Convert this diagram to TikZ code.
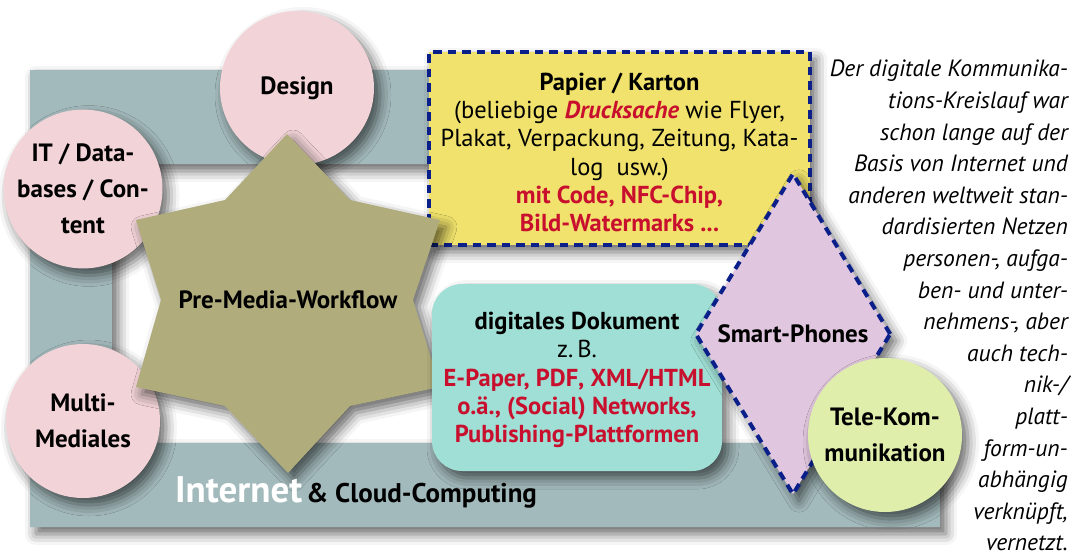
\documentclass[tikz,border=0pt]{standalone}
\usepackage{fontspec}
\setmainfont{PT Sans}
\usetikzlibrary{shadows.blur,shapes.geometric}
\definecolor{framegray}{HTML}{A3BABC}
\definecolor{pinkc}{HTML}{F2D3D7}
\definecolor{starc}{HTML}{B0AC7C}
\definecolor{yellowc}{HTML}{F0E26C}
\definecolor{tealc}{HTML}{A0DFD5}
\definecolor{lavc}{HTML}{E0C6DE}
\definecolor{greenc}{HTML}{DFEEAB}
\definecolor{dashblue}{HTML}{0B1F8A}
\definecolor{redc}{HTML}{C8102E}
\tikzset{
  shd/.style={blur shadow={shadow xshift=6pt, shadow yshift=-7pt, shadow blur radius=11pt, shadow opacity=60}},
  bubble/.style={circle, fill=pinkc, shd, minimum size=154pt, inner sep=0pt, align=center,
    font=\fontsize{25}{36}\selectfont\bfseries},
  bluedash/.style={draw=dashblue, line width=4pt, dash pattern=on 8.5pt off 6pt},
  boxtext/.style={font=\fontsize{24.5}{28.2}\selectfont, align=center, inner sep=0pt},
  yellowbox/.style={rectangle, fill=yellowc, bluedash, shd, minimum width=381pt, minimum height=193pt},
  tealbox/.style={rectangle, rounded corners=30pt, fill=tealc, shd, minimum width=290pt, minimum height=187pt},
  phonebox/.style={diamond, aspect=0.6, fill=lavc, bluedash, shd, inner sep=0pt,
    minimum width=196pt, minimum height=322pt, font=\fontsize{25}{28}\selectfont\bfseries}
}
\begin{document}
\begin{tikzpicture}[x=1pt,y=-1pt]
\useasboundingbox (0,0) rectangle (1071,557);
% frame
\fill[framegray, shd] (30,70) -- (780,70) -- (780,164) -- (112,164) -- (112,443) -- (940,443) -- (940,527) -- (30,527) -- cycle;
% yellow box
\node[yellowbox] (papier) at (619.5,148.5) {};
\node[boxtext] (papiertxt) at (619.5,152.5) {{\bfseries Papier / Karton}\\
(beliebige {\color{redc}\bfseries\itshape Drucksache} wie Flyer,\\
Plakat, Verpackung, Zeitung, Kata-\\
log\ \ usw.)\\
{\color{redc}\bfseries mit Code, NFC-Chip,}\\
{\color{redc}\bfseries Bild-Watermarks ...}};
% circles
\node[bubble] (design) at (297,88) {Design};
\node[bubble] (it) at (83,189) {IT / Data-\\bases / Con-\\tent};
\node[bubble] (multi) at (83,421) {Multi-\\Mediales};
% star
\fill[starc, shd] (287,134) -- (350,200) -- (440,220) -- (413,300) -- (440,387) -- (350,406) -- (288,473) -- (225,406) -- (136,387) -- (161,300) -- (136,220) -- (225,200) -- cycle;
\node[font=\fontsize{25}{28}\selectfont\bfseries] (pmw) at (288,300) {Pre-Media-Workflow};
% teal box
\node[tealbox] (doc) at (577,377.5) {};
\node[boxtext] (doctxt) at (577,380) {{\bfseries digitales Dokument}\\
z.\,B.\\
{\color{redc}\bfseries E-Paper, PDF, XML/HTML}\\
{\color{redc}\bfseries o.ä., (Social) Networks,}\\
{\color{redc}\bfseries Publishing-Plattformen}};
% diamond
\node[phonebox] (phones) at (793,334) {Smart-Phones};
% tele
\node[bubble, fill=greenc] (tele) at (885,435) {Tele-Kom-\\munikation};
% internet label
\node[anchor=base west, inner sep=0pt] (inet) at (175,502) {{\color{white}\fontsize{37}{37}\selectfont\bfseries Internet}\hspace{0.15em} {\fontsize{27}{27}\selectfont\bfseries \& Cloud-Computing}};
% caption
\node[anchor=north east, align=right, inner sep=0pt, font=\itshape\fontsize{23.5}{31.6}\selectfont] (caption) at (1068,60) {Der digitale Kommunika-\\
tions-Kreislauf war\\
schon lange auf der\hspace*{0.3em}\\
Basis von Internet und\\
anderen weltweit stan-\\
dardisierten Netzen\\
personen-, aufga-\\
ben- und unter-\\
nehmens-, aber\\
auch tech-\\
nik-/\\
platt-\\
form-un-\\
abhängig\\
verknüpft,\\
vernetzt.};
\end{tikzpicture}
\end{document}
